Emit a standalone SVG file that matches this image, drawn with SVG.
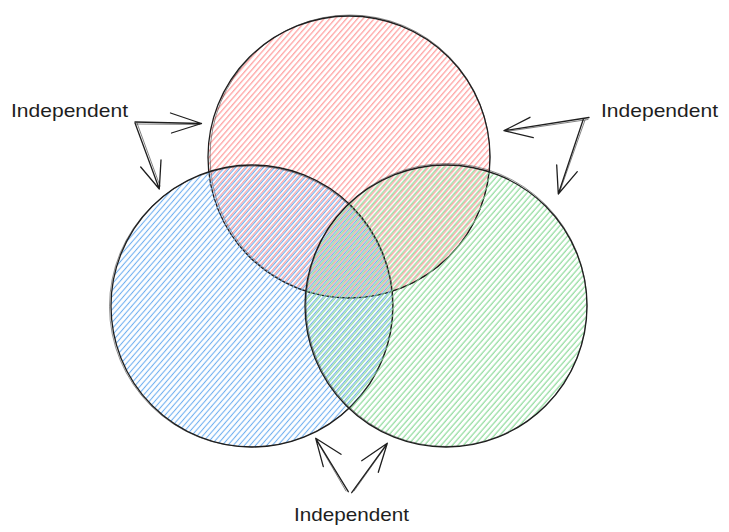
<svg xmlns="http://www.w3.org/2000/svg" width="729" height="532" viewBox="0 0 729 532">
<defs>
<pattern id="hRed" patternUnits="userSpaceOnUse" width="4.2" height="4" patternTransform="rotate(41)"><line x1="0.7" y1="-1" x2="0.7" y2="5" stroke="#ff9494" stroke-width="1.1"/></pattern>
<pattern id="hBlue" patternUnits="userSpaceOnUse" width="4.2" height="4" patternTransform="rotate(41)"><line x1="2.1" y1="-1" x2="2.1" y2="5" stroke="#70b0f0" stroke-width="1.1"/></pattern>
<pattern id="hGreen" patternUnits="userSpaceOnUse" width="4.2" height="4" patternTransform="rotate(41)"><line x1="3.5" y1="-1" x2="3.5" y2="5" stroke="#86d894" stroke-width="1.1"/></pattern>
</defs>
<style>
.outline{fill:none;stroke:#1e1e1e;stroke-width:1.3}
.outline2{fill:none;stroke:#1e1e1e;stroke-width:0.7;opacity:0.7}
.conn{fill:none;stroke:#1e1e1e;stroke-width:1.3;stroke-linecap:round;stroke-linejoin:round}
.conn2{fill:none;stroke:#1e1e1e;stroke-width:0.7;stroke-linecap:round;opacity:0.8}
.lbl{font-family:"Liberation Sans",Arial,sans-serif;font-size:19px;fill:#1e1e1e}
</style>
<rect width="729" height="532" fill="#ffffff"/>
<g id="circle-red">
<circle cx="349" cy="157" r="141" fill="url(#hRed)"/>
<circle class="outline" cx="349" cy="157" r="141"/>
<ellipse class="outline2" cx="350" cy="156.5" rx="140" ry="141.5"/>
</g>
<g id="circle-blue">
<circle cx="252" cy="306" r="141" fill="url(#hBlue)"/>
<circle class="outline" cx="252" cy="306" r="141"/>
<ellipse class="outline2" cx="251" cy="306.5" rx="141.5" ry="140.5"/>
</g>
<g id="circle-green">
<circle cx="446" cy="306" r="141" fill="url(#hGreen)"/>
<circle class="outline" cx="446" cy="306" r="141"/>
<ellipse class="outline2" cx="446.5" cy="305" rx="140.5" ry="141.5"/>
</g>
<g id="connectors">
<path class="conn" d="M135 122 L201.5 123.5 M170.5 113 L201.5 123.5 L171.5 133"/>
<path class="conn2" d="M136 124 L200 124.5"/>
<path class="conn" d="M135 123 L159.3 189 M140.7 167 L159.3 189 L161 160"/>
<path class="conn2" d="M137 123 L160 186"/>
<path class="conn" d="M589 117.5 L504 130.7 M530 117.3 L504 130.7 L533.3 137.7"/>
<path class="conn2" d="M588 119.5 L506 131.5"/>
<path class="conn" d="M583.3 119.3 L558.3 194 M556.7 165 L558.3 194 L577.3 171.7"/>
<path class="conn2" d="M585 120 L560 191"/>
<path class="conn" d="M348.3 491.7 L315.7 438.3 M323.3 466.7 L315.7 438.3 L341 454.3"/>
<path class="conn2" d="M346 491 L317 441"/>
<path class="conn" d="M351.7 492.7 L387.3 443.3 M361.7 460.7 L387.3 443.3 L378.3 472.3"/>
<path class="conn2" d="M354 491 L386 446"/>
</g>
<g id="label-left"><text class="lbl" x="11" y="117" textLength="117" lengthAdjust="spacingAndGlyphs">Independent</text></g>
<g id="label-right"><text class="lbl" x="601" y="117" textLength="117" lengthAdjust="spacingAndGlyphs">Independent</text></g>
<g id="label-bottom"><text class="lbl" x="294" y="521" textLength="115" lengthAdjust="spacingAndGlyphs">Independent</text></g>
</svg>
